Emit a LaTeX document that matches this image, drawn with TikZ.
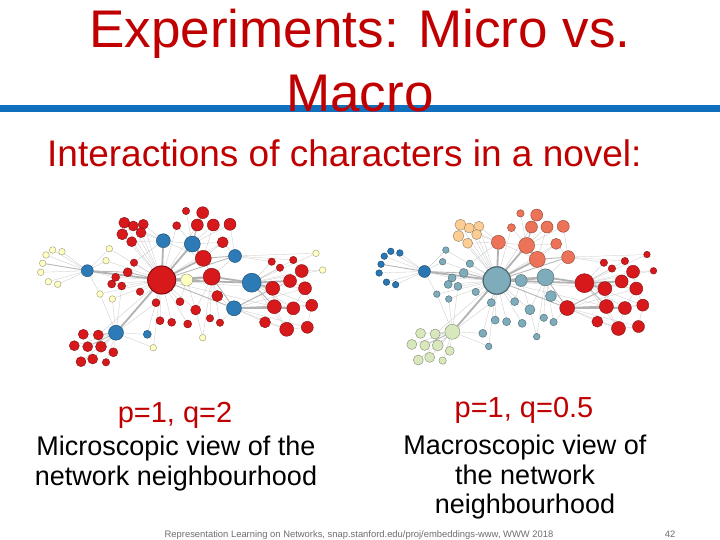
\documentclass[tikz,border=0pt]{standalone}
\usepackage{fontspec}
\setmainfont{Liberation Sans}
\usetikzlibrary{backgrounds}
\definecolor{titlered}{RGB}{192,0,0}
\definecolor{barblue}{RGB}{16,112,190}
\definecolor{nred}{RGB}{215,25,28}
\definecolor{nblue}{RGB}{44,123,182}
\definecolor{nyel}{RGB}{255,255,195}
\definecolor{nteal}{RGB}{127,172,186}
\definecolor{nsalm}{RGB}{236,114,88}
\definecolor{norange}{RGB}{252,206,148}
\definecolor{ngreen}{RGB}{216,232,188}
\definecolor{ndblue}{RGB}{40,118,180}
\definecolor{footgray}{RGB}{110,110,110}
\tikzset{
  dot/.style={circle,inner sep=0pt,fill=c#1,draw=c#1!60!black,line width=0.4pt},
  thinedge/.style={draw=black!22,line width=0.3pt},
  midedge/.style={draw=black!28,line width=0.9pt},
  thickedge/.style={draw=black!30,line width=1.8pt},
  titletext/.style={text=titlered,font=\fontsize{53}{64}\selectfont,anchor=base,inner sep=0pt},
  captext/.style={font=\fontsize{27}{30}\selectfont,anchor=base,inner sep=0pt},
  captred/.style={text=titlered,font=\fontsize{29}{32}\selectfont,anchor=base,inner sep=0pt}
}
\newcommand\drawnet[1]{%
  \foreach \n/\x/\y/\r/\c in {
    h/161.7/280/14/HT, y0/186.7/280/6/YT, r1/211.7/276.7/8.5/RT, r2/203.3/258.3/8/RS,
    b1/192.3/244/8/BS, b2/163.3/240.7/7/BS, b3/235/256/6.5/BS, b4/251.7/282.7/9.5/BR,
    b5/234/308.3/7.5/BR, b6/87.3/270.7/6/BB, b7/116/332.7/7.5/BG, b8/147.3/334.3/4/BT,
    t1/202.7/212.7/6/RS, t2/186/211/3.7/RS, t3/197.3/225/6/RS, t4/213.3/225/6/RS,
    t5/230/224.3/6/RS, t6/176.7/225.7/4/RS, t7/222.7/242.3/5.5/RS,
    o1/124.3/222.7/5.5/RO, o2/133.3/226/5/RO, o3/143.3/224.3/5/RO, o4/122.3/234.3/5.5/RO,
    o5/141/232.7/5/RO, o6/131.7/241.7/5/RO,
    l1/46/255/3.3/YB, l2/52.7/250/3.3/YB, l3/62/251.7/3.3/YB, l4/42.7/263.3/3.3/YB,
    l5/40.7/272.3/3.3/YB, l6/48.3/281.7/3.3/YB, l7/57.7/284.3/3.3/YB,
    y1/109.3/248.7/3.3/YT, y2/106/260.7/3.3/YT, y3/100/294/3.3/YT, y4/112.3/299/3.3/YT,
    y5/202.7/337.7/3.3/YT, y6/153.3/347.7/3.3/YT, y7/316/253.3/3.3/YR, y8/322.7/270/3.3/YR,
    m1/134/262.7/3.7/RT, m2/127.7/272.3/4.5/RT, m3/115.7/277.3/4/RT, m4/111.7/284/4/RT,
    m5/121.7/286/4/RT, m6/140/291.7/3.7/RT, m7/156/302.7/4/RT, m8/180/301.7/4/RT,
    m9/195.7/310/5/RT, m10/217.3/296/5.5/RT, m11/210/318.3/3.7/RT, m12/220/322.7/3.7/RT,
    m13/187.7/324/4/RT, m14/171.7/322.3/4/RT, m15/160/320.7/4/RT,
    k1/271.7/261.7/3.7/RR, k2/280/267.7/3.7/RR, k3/293.3/260/3.7/RR, k4/301.7/271/6.5/RR,
    k5/290/281/6.5/RR, k6/305/288.3/6.5/RR, k7/272.7/288.3/7/RR, k8/311.7/305.3/6/RR,
    k9/293.3/308.3/6.5/RR, k10/274.3/306.7/7/RR, k11/265/322.3/5.5/RR, k12/286.7/329.3/7/RR,
    k13/307.3/327.3/6/RR,
    g1/83.3/334.3/5/RG, g2/98.3/335/5/RG, g3/74.3/345.7/5/RG, g4/87.7/346.7/5/RG,
    g5/101/346.7/5.5/RG, g6/113.3/352.3/4.5/RG, g7/81/361.7/5/RG, g8/92.7/359/5/RG,
    g9/106/362.3/3.7/RG}{
    \node[dot=\c, minimum size={2*\r pt}] (#1\n) at (\x,\y) {};
  }
  \draw[dot=HT, line width=1pt] (#1h) circle (14pt);
  \begin{scope}[on background layer]
    \foreach \a/\b in {
      b6/l1, b6/l2, b6/l3, b6/l5, b6/l6, b6/l7, b6/y1, b6/y2, b6/m3,
      b7/g1, b7/g3, b7/g5, b7/g6, b7/g7, b7/g8, b7/g9, b7/b8, b7/y6, b7/m7, b7/m5, b7/y4,
      h/o1, h/o2, h/o3, h/o4, h/o5, h/o6, b2/o1, b2/o3, b2/o5, b2/o6, b2/b1,
      b1/t1, b1/t2, b1/t4, b1/t5, b1/t6, b1/t7, h/t6, h/t3, b3/t5, b3/t7, b3/k1, b3/k3,
      b3/y7, r2/t4, r2/t7,
      h/y1, h/y2, h/y3, h/y4, h/y6, h/m1, h/m3, h/m4, h/m5, h/m6, h/m7, h/m8, h/m9,
      h/m13, h/m14, h/m15, h/b8, h/g2,
      r1/m10, r1/m9, r1/m11, r1/m12, r1/b3, r1/r2, m10/b5, m9/y5, r1/y5, b5/m12,
      b4/k1, b4/k2, b4/k3, b4/k4, b4/k6, b4/k8, b4/k9, b4/k12, b4/y7, b4/y8,
      b5/k5, b5/k6, b5/k8, b5/k11, b5/k12, b5/k13,
      k4/k5, k5/k6, k6/k8, k7/k10, k9/k12, k12/k13, k8/k13, k9/k8, k11/k12, k4/k6,
      k5/k7, k9/k6, k4/y8, k10/k12, k3/k4,
      y0/m8, y0/m9, b2/m1, b2/r2, b6/y3, b7/y3, h/k7, h/k10, h/t7}{
      \draw[thinedge] (#1\a) -- (#1\b);
    }
    \foreach \a/\b in {h/b3, h/b5, r2/b3, b7/g4, b7/g2, b6/l4, h/m2, b4/k10, b5/k7,
      r1/b5, b1/t3, b6/m2}{
      \draw[midedge] (#1\a) -- (#1\b);
    }
    \foreach \a/\b in {h/y0, h/r2, h/b1, h/b2, h/b6, h/b7, h/b4, y0/r1, r1/b4,
      b4/k7, b5/k10, b5/k9, b4/k5, b1/r2, h/r1}{
      \draw[thickedge] (#1\a) -- (#1\b);
    }
  \end{scope}
}
\begin{document}
\begin{tikzpicture}[x=1pt,y=-1pt]
  \begin{scope}[on background layer]
    \fill[white] (0,0) rectangle (720,540);
  \end{scope}
  \useasboundingbox (0,0) rectangle (720,540);
  % header bar and title
  \fill[barblue] (0,105) rectangle (720,112.5);
  \node[titletext] (title1) at (360,48) {Experiments: Micro vs.};
  \node[titletext] (title2) at (360,112) {Macro};
  \node[text=titlered,font=\fontsize{37}{40}\selectfont,anchor=base west,inner sep=0pt]
    (sub) at (47,166.7) {Interactions of characters in a novel:};
  % network 1
  \begin{scope}
    \colorlet{cHT}{nred}\colorlet{cYT}{nyel}\colorlet{cRT}{nred}\colorlet{cRS}{nred}
    \colorlet{cBS}{nblue}\colorlet{cBR}{nblue}\colorlet{cBB}{nblue}\colorlet{cBG}{nblue}
    \colorlet{cBT}{nblue}\colorlet{cRO}{nred}\colorlet{cYB}{nyel}\colorlet{cYR}{nyel}
    \colorlet{cRR}{nred}\colorlet{cRG}{nred}
    \drawnet{A}
  \end{scope}
  % network 2
  \begin{scope}[shift={(339.5,8.07)},scale=0.973]
    \colorlet{cHT}{nteal}\colorlet{cYT}{nteal}\colorlet{cRT}{nteal}\colorlet{cRS}{nsalm}
    \colorlet{cBS}{nsalm}\colorlet{cBR}{nred}\colorlet{cBB}{ndblue}\colorlet{cBG}{ngreen}
    \colorlet{cBT}{nteal}\colorlet{cRO}{norange}\colorlet{cYB}{ndblue}\colorlet{cYR}{nred}
    \colorlet{cRR}{nred}\colorlet{cRG}{ngreen}
    \drawnet{B}
  \end{scope}
  % captions
  \node[captred] (p1) at (175,422) {p=1, q=2};
  \node[captext] (c1a) at (176,455) {Microscopic view of the};
  \node[captext] (c1b) at (176,485) {network neighbourhood};
  \node[captred] (p2) at (524,417) {p=1, q=0.5};
  \node[captext] (c2a) at (525,454) {Macroscopic view of};
  \node[captext] (c2b) at (525,484) {the network};
  \node[captext] (c2c) at (525,513.5) {neighbourhood};
  % footer
  \node[text=footgray,font=\fontsize{9.4}{11}\selectfont,anchor=base west,inner sep=0pt]
    (foot) at (164.5,537) {Representation Learning on Networks, snap.stanford.edu/proj/embeddings-www, WWW 2018};
  \node[text=footgray,font=\fontsize{9.4}{11}\selectfont,anchor=base,inner sep=0pt]
    (pg) at (670,537) {42};
\end{tikzpicture}
\end{document}
